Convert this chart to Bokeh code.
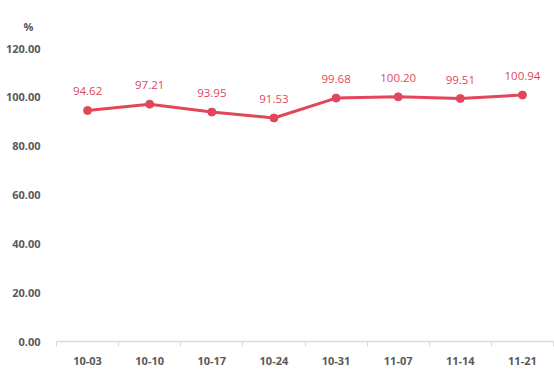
from bokeh.plotting import figure
from bokeh.models import FixedTicker, Range1d, Title, ColumnDataSource
from bokeh.core.properties import value
from bokeh.embed import file_html
from bokeh.resources import INLINE

dates = ["10-03", "10-10", "10-17", "10-24", "10-31", "11-07", "11-14", "11-21"]
values = [94.62, 97.21, 93.95, 91.53, 99.68, 100.20, 99.51, 100.94]
y_ticks = [0, 20, 40, 60, 80, 100, 120]
unit = "%"

RED = "#E2465B"
GRAY = "#595959"
FONT = "Open Sans"

xs = [i + 0.5 for i in range(len(dates))]
src = ColumnDataSource(dict(x=xs, y=values, lbl=[f"{v:.2f}" for v in values]))

p = figure(width=554, height=371, output_backend="svg", toolbar_location=None,
           x_range=Range1d(0, len(dates)), y_range=Range1d(0, 120),
           min_border_left=56, min_border_right=1, min_border_top=48, min_border_bottom=30)
p.outline_line_color = None
p.background_fill_color = "white"
p.border_fill_color = "white"
p.xgrid.visible = False
p.ygrid.visible = False

p.line("x", "y", source=src, line_color=RED, line_width=3)
p.scatter("x", "y", source=src, size=8, fill_color=RED, line_color=RED)
p.text("x", "y", text="lbl", source=src, text_color=RED, text_font=value(FONT),
       text_font_size="11.5px", text_align="center", text_baseline="middle", y_offset=-19)

# x axis
xa = p.xaxis[0]
xa.ticker = FixedTicker(ticks=xs, minor_ticks=list(range(len(dates) + 1)))
xa.major_label_overrides = {x: d for x, d in zip(xs, dates)}
xa.major_tick_line_color = None
xa.minor_tick_line_color = "#D9D9D9"
xa.minor_tick_in = 0
xa.minor_tick_out = 5
xa.axis_line_color = "#D9D9D9"
xa.axis_line_width = 1.5
xa.major_label_text_font = FONT
xa.major_label_text_font_style = "bold"
xa.major_label_text_font_size = "11px"
xa.major_label_text_color = GRAY
xa.major_label_standoff = 9

# y axis
ya = p.yaxis[0]
ya.ticker = FixedTicker(ticks=y_ticks)
ya.major_label_overrides = {t: f"{t:.2f}" for t in y_ticks}
ya.axis_line_color = None
ya.major_tick_line_color = None
ya.minor_tick_line_color = None
ya.major_label_text_font = FONT
ya.major_label_text_font_style = "bold"
ya.major_label_text_font_size = "11px"
ya.major_label_text_color = GRAY
ya.major_label_standoff = 10

p.add_layout(Title(text=unit + "\n ", align="left", offset=-33, text_font=FONT, text_font_size="11px",
                   text_font_style="bold", text_color=GRAY, standoff=0), "above")

open("out.html", "w").write(file_html(p, INLINE))
